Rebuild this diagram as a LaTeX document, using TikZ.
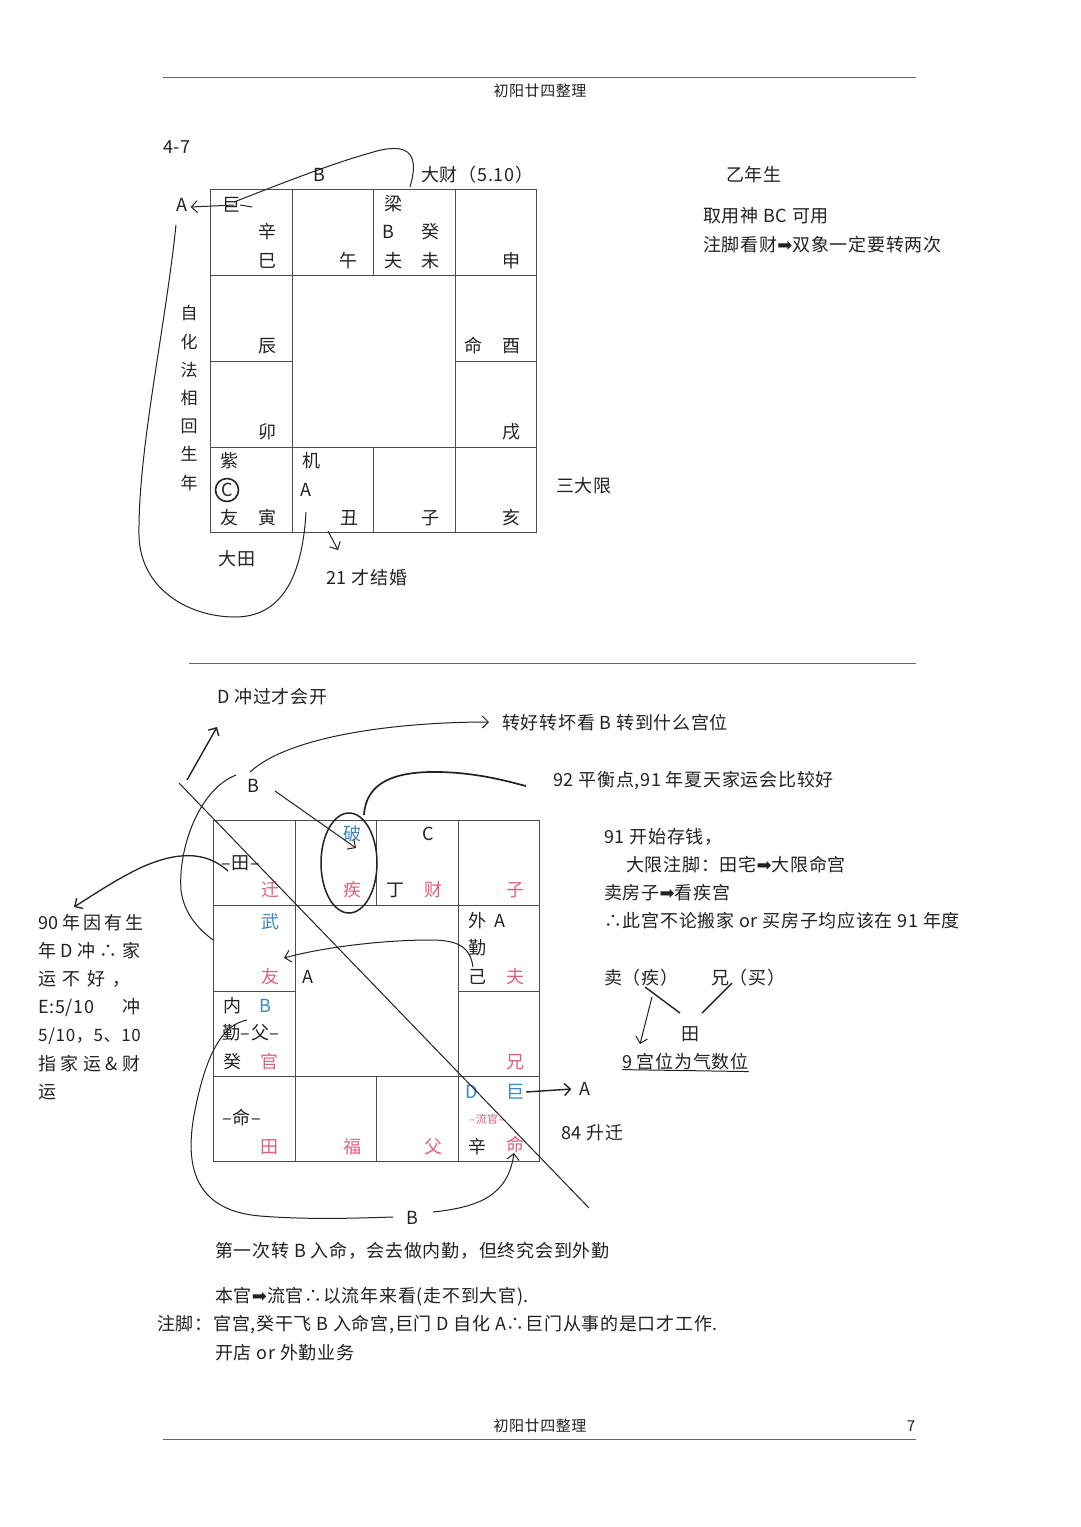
\documentclass[tikz,border=0pt]{standalone}
\usepackage{fontspec}
\setmainfont{Noto Sans CJK SC}[LetterSpace=4]
\newfontfamily\dvfont{DejaVu Sans}
\usetikzlibrary{arrows.meta,shapes.geometric}
\definecolor{pr}{HTML}{E0607A}
\definecolor{pb}{HTML}{3A86C8}
\definecolor{ink}{HTML}{222222}
\newcommand{\hvarrow}{{\dvfont\char"27A1}}
\tikzset{
  txt/.style={inner sep=0pt, text=ink, font=\fontsize{18}{20}\selectfont},
  txtl/.style={txt, anchor=west},
  redt/.style={txt, text=pr},
  blut/.style={txt, text=pb},
  gline/.style={line width=1pt, draw=black!70},
  curv/.style={line width=1pt, draw=ink},
  harrow/.style={curv, -{Straight Barb[length=6pt,width=12pt]}},
  small/.style={font=\fontsize{11}{12}\selectfont},
}
\begin{document}
\begin{tikzpicture}[x=1pt,y=-1pt]
\useasboundingbox[fill=white] (0,0) rectangle (1080,1527);

% header / footer
\draw[line width=1pt, black!60] (163,77) -- (916,77);
\node[txt, font=\fontsize{15}{16}\selectfont] (hdr) at (540,91) {初阳廿四整理};
\draw[line width=1pt, black!60] (163,1439) -- (916,1439);
\node[txt, font=\fontsize{15}{16}\selectfont] (ftr) at (540,1426) {初阳廿四整理};
\node[txt, font=\fontsize{15}{16}\selectfont] (pg) at (911,1426) {7};
\draw[line width=1pt, black!60] (189,663) -- (916,663);

% ===== top chart =====
\draw[gline] (210,189) rectangle (536,532);
\draw[gline] (292,189) -- (292,532);
\draw[gline] (455,189) -- (455,532);
\draw[gline] (210,275) -- (536,275);
\draw[gline] (210,447) -- (536,447);
\draw[gline] (373,189) -- (373,275);
\draw[gline] (373,447) -- (373,532);
\draw[gline] (210,361) -- (292,361);
\draw[gline] (455,361) -- (536,361);

\node[txt] (n47) at (177,147) {4-7};
\node[txt] (tB) at (319,175) {B};
\node[txtl] (dacai) at (421,175) {大财（5.10）};
\node[txt] (tA) at (182,205) {A};
\node[txt] (ju1) at (231,205) {巨};
\node[txt] (xin1) at (267,232) {辛};
\node[txt] (si) at (267,261) {巳};
\node[txt] (wu) at (348,261) {午};
\node[txt] (liang) at (393,204) {梁};
\node[txt] (B2) at (388,232) {B};
\node[txt] (gui1) at (430,232) {癸};
\node[txt] (fu1) at (393,261) {夫};
\node[txt] (wei) at (430,261) {未};
\node[txt] (shen) at (511,261) {申};
\node[txt] (chen) at (267,346) {辰};
\node[txt] (ming1) at (473,346) {命};
\node[txt] (you) at (511,346) {酉};
\node[txt] (mao) at (267,432) {卯};
\node[txt] (xu) at (511,432) {戌};
\node[txt] (ziw) at (229,461) {紫};
\node[txt, circle, draw=ink, line width=1.6pt, minimum size=23pt] (C1) at (227,490) {C};
\node[txt] (you2) at (229,518) {友};
\node[txt] (yin) at (267,518) {寅};
\node[txt] (ji) at (311,461) {机};
\node[txt] (A2) at (306,490) {A};
\node[txt] (chou) at (349,518) {丑};
\node[txt] (zi) at (430,518) {子};
\node[txt] (hai) at (511,518) {亥};
\node[txtl] (sandx) at (556,486) {三大限};
\node[txt] (datian) at (237,559) {大田};
\node[txtl] (j21) at (326,578) {21 才结婚};
\node[txt, align=center, font=\fontsize{17}{28.2}\selectfont] (zihua) at (189,398) {自\\化\\法\\相\\回\\生\\年};

% top connectors
\coordinate (c1a) at (410,187);
\coordinate (c1m) at (370,153);
\coordinate (c1b) at (234,202);
\draw[curv] (c1a) .. controls (421,150) and (405,142) .. (c1m) .. controls (330,164) and (270,188) .. (c1b);
\draw[curv] (ju1.east) -- ++(12,2);
\draw[harrow] ([xshift=3pt]ju1.center) -- ([xshift=3pt,yshift=-2pt]tA.east);
\coordinate (c21a) at (328,531);
\coordinate (c21b) at (338,550);
\draw[harrow] (c21a) -- (c21b);
\coordinate (lpa) at (176,225);
\coordinate (lpb) at (139,535);
\coordinate (lpc) at (235,617);
\coordinate (lpd) at (306,512);
\draw[curv] (lpa) .. controls (165,330) and (138,450) .. (lpb) .. controls (140,590) and (190,617) .. (lpc) .. controls (288,617) and (303,565) .. (lpd);

% top right text
\node[txtl] (yisheng) at (726,175) {乙年生};
\node[txtl] (quyong) at (703,216) {取用神 BC 可用};
\node[txtl] (zhujiao) at (703,245) {注脚看财\hvarrow 双象一定要转两次};

% ===== bottom chart =====
\draw[gline] (213,820) rectangle (539,1161);
\draw[gline] (295,820) -- (295,1161);
\draw[gline] (458,820) -- (458,1161);
\draw[gline] (213,905) -- (539,905);
\draw[gline] (213,1076) -- (539,1076);
\draw[gline] (213,991) -- (295,991);
\draw[gline] (458,991) -- (539,991);
\draw[gline] (376,820) -- (376,905);
\draw[gline] (376,1076) -- (376,1161);

\node[txt] (tian1) at (241,863) {–田–};
\node[redt] (qian) at (270,890) {迁};
\node[blut] (po) at (352,834) {破};
\node[redt] (ji2) at (352,890) {疾};
\node[txt] (C2) at (428,834) {C};
\node[txt] (ding) at (395,890) {丁};
\node[redt] (cai) at (433,890) {财};
\node[redt] (zi2) at (515,890) {子};
\node[blut] (wu2) at (270,922) {武};
\node[redt] (you3) at (270,977) {友};
\node[txt] (A3) at (308,977) {A};
\node[txt] (wai) at (477,921) {外};
\node[txt] (A4) at (500,921) {A};
\node[txt] (qin) at (477,948) {勤};
\node[txt] (jiz) at (477,977) {己};
\node[redt] (fu2) at (515,977) {夫};
\node[txt] (nei) at (232,1006) {内};
\node[blut] (B3) at (265,1006) {B};
\node[txtl] (qinfu) at (222,1033) {勤–父–};
\node[txt] (gui2) at (232,1062) {癸};
\node[redt] (guan) at (269,1062) {官};
\node[redt] (xiong) at (515,1062) {兄};
\node[txt] (ming2) at (242,1118) {–命–};
\node[redt] (tian2) at (269,1147) {田};
\node[redt] (fu3) at (352,1147) {福};
\node[redt] (fu4) at (433,1147) {父};
\node[blut] (D1) at (472,1092) {D};
\node[blut] (ju2) at (515,1092) {巨};
\node[redt, small] (liuguan) at (487,1119) {–流官–};
\node[txt] (xin2) at (477,1147) {辛};
\node[redt] (ming3) at (515,1145) {命};
\node[txt] (A5) at (585,1089) {A};
\node[txtl] (sq84) at (561,1133) {84 升迁};
\node[txt] (B4) at (412,1218) {B};
\node[txt] (B5) at (253,786) {B};

\node[txtl] (dchong) at (217,697) {D 冲过才会开};
\node[txtl] (zhuan) at (502,723) {转好转坏看 B 转到什么宫位};
\node[txtl] (n92) at (553,781) {92 平衡点,91 年夏天家运会比较好};

\node[draw=ink, line width=1.5pt, ellipse, minimum width=56pt, minimum height=100pt, inner sep=0pt] (ell) at (349,863) {};

% diagonal
\coordinate (dga) at (179,783);
\coordinate (dgb) at (589,1208);
\draw[curv] (dga) -- (dgb);

% bottom connectors
\coordinate (dca) at (187,780);
\coordinate (dcb) at (217,727);
\draw[harrow, line width=1.4pt] (dca) -- (dcb);
\coordinate (bza) at (250,772);
\coordinate (bzb) at (489,722);
\draw[harrow] (bza) .. controls (290,735) and (400,722) .. (bzb);
\coordinate (bpa) at (275,791);
\coordinate (bpb) at (356,848);
\draw[harrow] (bpa) -- (bpb);
\coordinate (e92a) at (364,815);
\coordinate (e92m) at (440,772);
\coordinate (e92b) at (526,786);
\draw[line width=1.7pt, ink] (e92a) .. controls (366,782) and (395,771) .. (e92m) .. controls (480,773) and (510,782) .. (e92b);
\coordinate (lba) at (236,775);
\coordinate (lbm) at (181,890);
\coordinate (lbb) at (213,940);
\draw[curv] (lba) .. controls (198,790) and (178,850) .. (lbm) .. controls (184,915) and (200,930) .. (lbb);
\coordinate (tya) at (228,871);
\coordinate (tym) at (140,868);
\coordinate (tyb) at (74,907);
\draw[harrow, line width=1.3pt] (tya) .. controls (205,850) and (175,852) .. (tym) .. controls (115,880) and (90,897) .. (tyb);
\coordinate (fya) at (473,967);
\coordinate (fym) at (430,940);
\coordinate (fyb) at (284,958);
\draw[harrow] (fya) .. controls (470,945) and (455,940) .. (fym) .. controls (380,940) and (320,948) .. (fyb);
\coordinate (qba) at (247,1020);
\coordinate (qbm) at (195,1110);
\coordinate (qbn) at (260,1216);
\coordinate (qbb) at (393,1217);
\draw[curv] (qba) .. controls (220,1025) and (205,1060) .. (qbm) .. controls (185,1160) and (190,1210) .. (qbn) .. controls (310,1220) and (360,1218) .. (qbb);
\coordinate (bma) at (433,1212);
\coordinate (bmb) at (514,1153);
\draw[harrow] (bma) .. controls (480,1207) and (508,1195) .. (bmb);
\draw[harrow, line width=1.4pt] ([xshift=2pt]ju2.east) -- ([xshift=-8pt]A5.west);

% left text
\begin{scope}[every node/.style={txtl}]
\node (l1) at (38,923) {\makebox[102pt][s]{90 年 因 有 生}};
\node (l2) at (38,951) {\makebox[102pt][s]{年 D 冲 ∴ 家}};
\node (l3) at (38,979) {\makebox[92pt][s]{运 不 好 ，}};
\node (l4) at (38,1008) {\makebox[102pt][s]{E:5/10 冲}};
\node[font=\fontsize{17}{20}\selectfont] (l5) at (38,1036) {5/10，5、10};
\node (l6) at (38,1064) {\makebox[102pt][s]{指 家 运 \& 财}};
\node (l7) at (38,1092) {运};
\end{scope}

% right text
\node[txtl] (r1) at (604,837) {91 开始存钱，};
\node[txtl] (r2) at (626,865) {大限注脚：田宅\hvarrow 大限命宫};
\node[txtl] (r3) at (604,893) {卖房子\hvarrow 看疾宫};
\node[txtl] (r4) at (604,921) {∴此宫不论搬家 or 买房子均应该在 91 年度};
\node[txtl] (mai) at (604,978) {卖（疾）};
\node[txtl] (xiongm) at (711,978) {兄（买）};
\node[txt] (tian3) at (690,1034) {田};
\node[txtl] (jiugong) at (622,1062) {9 宫位为气数位};
\draw[line width=1pt, ink] (jiugong.south west) ++(0,-1) -- ([yshift=-1pt]jiugong.south east);
\coordinate (ma1) at (645,987);
\coordinate (ma2) at (680,1013);
\draw[line width=1.4pt, ink] (ma1) -- (ma2);
\coordinate (xm1) at (732,983);
\coordinate (xm2) at (702,1013);
\draw[line width=1.4pt, ink] (xm1) -- (xm2);
\coordinate (jq1) at (652,997);
\coordinate (jq2) at (640,1044);
\draw[harrow] (jq1) -- (jq2);

% bottom text
\node[txtl] (b1) at (215,1251) {第一次转 B 入命，会去做内勤，但终究会到外勤};
\node[txtl] (b2) at (215,1297) {本官\hvarrow 流官∴以流年来看(走不到大官).};
\node[txtl] (b3) at (157,1325) {注脚：官宫,癸干飞 B 入命宫,巨门 D 自化 A∴巨门从事的是口才工作.};
\node[txtl] (b4) at (215,1353) {开店 or 外勤业务};
\end{tikzpicture}
\end{document}
